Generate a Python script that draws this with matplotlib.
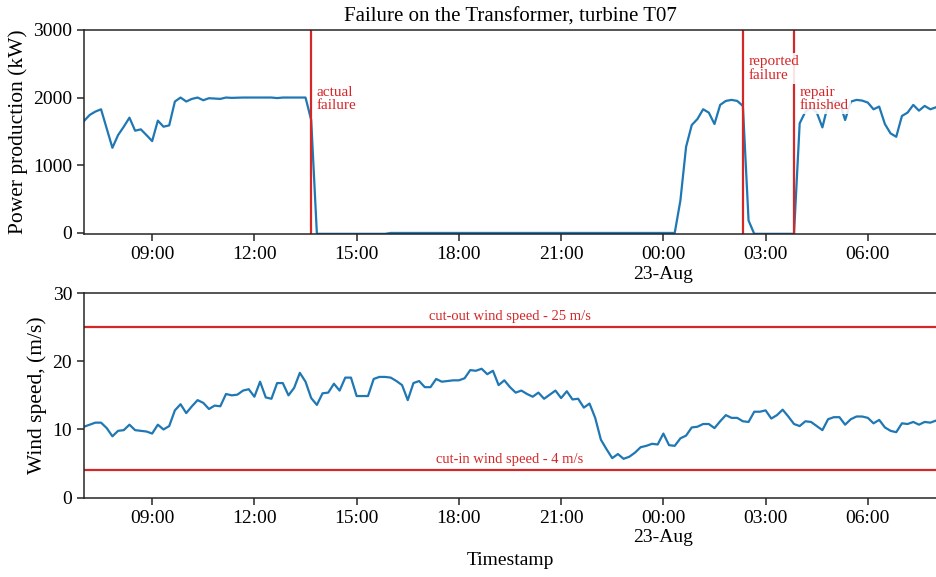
import matplotlib
matplotlib.use("Agg")
import matplotlib.pyplot as plt
import matplotlib.dates as mdates
import pandas as pd

plt.rcParams['font.family'] = 'serif'
plt.rcParams['font.serif'] = ['Liberation Serif', 'DejaVu Serif']

# ---------------- data ----------------
start_time = "2021-08-22 07:00"
n_points = 151
freq = "10min"

power_kw = [
    1653, 1742, 1792, 1826, 1543, 1256,   # 07
    1444, 1568, 1702, 1509, 1529, 1444,   # 08
    1355, 1658, 1568, 1588, 1941, 2000,   # 09
    1941, 1980, 2000, 1960, 1990, 1985,   # 10
    1980, 2000, 1995, 1998, 2000, 2000,   # 11
    2000, 2000, 2000, 2000, 1992, 2000,   # 12
    2000, 2000, 2000, 2000, 1667, -18,    # 13
    -18, -18, -18, -18, -18, -18,         # 14
    -18, -18, -18, -18, -18, -18,         # 15
    -5, -5, -5, -5, -5, -5,               # 16
    -5, -5, -5, -5, -5, -5,               # 17
    -5, -5, -5, -5, -5, -5,               # 18
    -5, -5, -5, -5, -5, -5,               # 19
    -5, -5, -5, -5, -5, -5,               # 20
    -5, -5, -5, -5, -5, -5,               # 21
    -5, -5, -5, -5, -5, -5,               # 22
    -5, -5, -5, -5, -5, -5,               # 23
    -5, -5, -5, 476, 1270, 1593,          # 00
    1682, 1826, 1777, 1608, 1891, 1950,   # 01
    1965, 1950, 1876, 179, -18, -18,      # 02
    -18, -18, -18, -18, -18, -18,         # 03
    1618, 1790, 1850, 1780, 1558, 1900,   # 04
    1950, 1940, 1667, 1940, 1965, 1955,   # 05
    1925, 1826, 1866, 1608, 1469, 1419,   # 06
    1727, 1777, 1891, 1806, 1876, 1826,   # 07
    1856,                                 # 08
]

wind_ms = [
    10.4, 10.7, 11.0, 11.0, 10.2, 9.0,    # 07
    9.8, 9.9, 10.7, 9.9, 9.8, 9.7,        # 08
    9.4, 10.7, 10.0, 10.5, 12.8, 13.7,    # 09
    12.4, 13.4, 14.3, 13.9, 13.0, 13.5,   # 10
    13.4, 15.2, 15.0, 15.1, 15.7, 15.9,   # 11
    14.8, 17.0, 14.7, 14.5, 16.8, 16.8,   # 12
    15.0, 16.1, 18.3, 17.0, 14.6, 13.6,   # 13
    15.3, 15.4, 16.7, 15.7, 17.6, 17.6,   # 14
    14.9, 14.9, 14.9, 17.4, 17.7, 17.7,   # 15
    17.6, 17.1, 16.5, 14.3, 16.8, 17.1,   # 16
    16.2, 16.2, 17.4, 17.0, 17.1, 17.2,   # 17
    17.2, 17.5, 18.7, 18.6, 18.9, 18.1,   # 18
    18.6, 16.5, 17.2, 16.2, 15.4, 15.7,   # 19
    15.2, 14.8, 15.4, 14.5, 15.1, 15.7,   # 20
    14.6, 15.6, 14.4, 14.5, 13.2, 13.8,   # 21
    11.7, 8.5, 7.1, 5.8, 6.4, 5.7,        # 22
    6.0, 6.6, 7.4, 7.6, 7.9, 7.8,         # 23
    9.4, 7.7, 7.6, 8.7, 9.1, 10.3,        # 00
    10.4, 10.8, 10.8, 10.2, 11.2, 12.1,   # 01
    11.7, 11.7, 11.2, 11.1, 12.6, 12.6,   # 02
    12.8, 11.6, 12.1, 12.9, 11.9, 10.8,   # 03
    10.5, 11.2, 11.1, 10.5, 9.9, 11.5,    # 04
    11.8, 11.8, 10.7, 11.5, 11.9, 11.9,   # 05
    11.7, 10.9, 11.4, 10.3, 9.8, 9.6,     # 06
    10.9, 10.8, 11.1, 10.7, 11.1, 11.0,   # 07
    11.3,                                 # 08
]

events = ["2021-08-22 13:40", "2021-08-23 02:20", "2021-08-23 03:50"]
event_labels = ["actual\nfailure", "reported\nfailure", "repair\nfinished"]
event_label_y = [1980, 2430, 1980]

cut_out = 25
cut_in = 4
cut_labels = ["cut-out wind speed - 25 m/s", "cut-in wind speed - 4 m/s"]

# ---------------- plot ----------------
times = pd.date_range(start_time, periods=n_points, freq=freq)
blue = '#1f77b4'
red = '#d62728'
spine_c = '#262626'

fig = plt.figure(figsize=(9.36, 5.77), dpi=100)
ax1 = fig.add_axes([84/936, 1-234.3/577, 1-84/936, (234.3-30)/577])
ax2 = fig.add_axes([84/936, 1-497.7/577, 1-84/936, (497.7-293)/577])


def fmt(x, pos=None):
    d = mdates.num2date(x)
    if d.hour == 0:
        return d.strftime("%H:%M") + "\n" + d.strftime("%d-%b")
    return d.strftime("%H:%M")


for ax in (ax1, ax2):
    ax.xaxis.set_major_locator(mdates.HourLocator(byhour=range(0, 24, 3)))
    ax.xaxis.set_major_formatter(plt.FuncFormatter(fmt))
    ax.set_xlim(times[0], times[-1])
    ax.spines['right'].set_visible(False)
    for s in ('left', 'bottom', 'top'):
        ax.spines[s].set_color(spine_c)
        ax.spines[s].set_linewidth(1.1)
    ax.tick_params(axis='both', labelsize=14, colors=spine_c, labelcolor='black',
                   length=5, width=1.1)

# top panel
ax1.plot(times, power_kw, color=blue, lw=1.6)
ax1.set_ylim(-25, 3000)
ax1.set_yticks([0, 1000, 2000, 3000])
ax1.set_ylabel("Power production (kW)", fontsize=15.5)
ax1.set_title("Failure on the Transformer, turbine T07", fontsize=15)
for ev in events:
    ax1.axvline(pd.Timestamp(ev), color=red, lw=1.6)
for ev, lab, ly in zip(events, event_labels, event_label_y):
    t = pd.Timestamp(ev)
    ax1.text(t + pd.Timedelta("10min"), ly, lab, color=red, fontsize=11,
             ha='left', va='center', linespacing=1.05, zorder=5,
             bbox=dict(facecolor='white', edgecolor='none', alpha=0.88, pad=1.5))

# bottom panel
ax2.plot(times, wind_ms, color=blue, lw=1.6)
ax2.axhline(cut_out, color=red, lw=1.6)
ax2.axhline(cut_in, color=red, lw=1.6)
ax2.text(0.5, cut_out + 0.6, cut_labels[0], transform=ax2.get_yaxis_transform(),
         color=red, fontsize=10.5, ha='center', va='bottom')
ax2.text(0.5, cut_in + 0.6, cut_labels[1], transform=ax2.get_yaxis_transform(),
         color=red, fontsize=10.5, ha='center', va='bottom')
ax2.set_ylim(0, 30)
ax2.set_yticks([0, 10, 20, 30])
ax2.set_ylabel("Wind speed, (m/s)", fontsize=15.5)
ax2.set_xlabel("Timestamp", fontsize=14)

fig.savefig("out.png", dpi=100)
